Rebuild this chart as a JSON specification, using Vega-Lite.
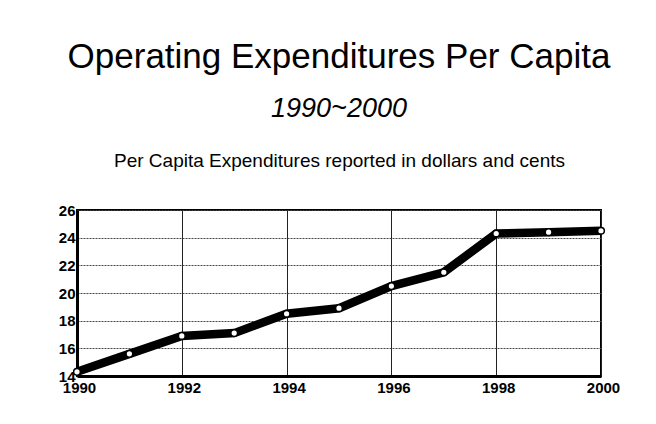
{
  "$schema": "https://vega.github.io/schema/vega-lite/v6.json",
  "width": 524,
  "height": 166,
  "autosize": {"type": "none"},
  "padding": {"left": 77, "top": 210, "right": 55, "bottom": 48},
  "background": "white",
  "title": {
    "text": "Operating Expenditures Per Capita",
    "subtitle": "1990~2000",
    "anchor": "middle",
    "font": "Liberation Sans",
    "fontSize": 35,
    "fontWeight": "normal",
    "color": "black",
    "subtitleFont": "Liberation Sans",
    "subtitleFontSize": 27,
    "subtitleFontStyle": "italic",
    "subtitleColor": "black",
    "subtitlePadding": 21,
    "offset": 29
  },
  "data": {
    "values": [
      {"year": 1990, "value": 14.3},
      {"year": 1991, "value": 15.6},
      {"year": 1992, "value": 16.9},
      {"year": 1993, "value": 17.1},
      {"year": 1994, "value": 18.5},
      {"year": 1995, "value": 18.9},
      {"year": 1996, "value": 20.5},
      {"year": 1997, "value": 21.5},
      {"year": 1998, "value": 24.3},
      {"year": 1999, "value": 24.4},
      {"year": 2000, "value": 24.5}
    ]
  },
  "layer": [
    {
      "mark": {"type": "line", "color": "black", "strokeWidth": 8.5},
      "encoding": {
        "x": {
          "field": "year",
          "type": "quantitative",
          "scale": {"domain": [1990, 2000], "nice": false, "zero": false},
          "axis": {
            "orient": "bottom",
            "values": [1990, 1992, 1994, 1996, 1998, 2000],
            "format": "d",
            "title": null,
            "ticks": false,
            "labelPadding": 4,
            "labelOffset": 2,
            "labelFlush": false,
            "labelOverlap": false,
            "domainWidth": 3,
            "domainColor": "black",
            "grid": true,
            "gridColor": "#222222",
            "gridWidth": 1
          }
        },
        "y": {
          "field": "value",
          "type": "quantitative",
          "scale": {"domain": [14, 26], "nice": false, "zero": false}
        }
      }
    },
    {
      "mark": {"type": "point", "shape": "circle", "filled": true, "fill": "white", "stroke": "black", "strokeWidth": 1.5, "size": 45, "opacity": 1},
      "encoding": {
        "x": {
          "field": "year",
          "type": "quantitative",
          "scale": {"domain": [1990, 2000], "nice": false, "zero": false},
          "axis": {
            "orient": "top",
            "labels": false,
            "ticks": false,
            "domain": false,
            "grid": false,
            "title": "Per Capita Expenditures reported in dollars and cents",
            "titleFont": "Liberation Sans",
            "titleFontSize": 19,
            "titleFontWeight": "normal",
            "titleColor": "black",
            "titlePadding": 40
          }
        },
        "y": {
          "field": "value",
          "type": "quantitative",
          "scale": {"domain": [14, 26], "nice": false, "zero": false}
        }
      }
    }
  ],
  "resolve": {"axis": {"x": "independent"}},
  "config": {
    "view": {"stroke": "black", "strokeWidth": 2},
    "axis": {
      "labelFont": "Liberation Sans",
      "labelFontSize": 15,
      "labelFontWeight": "bold",
      "labelColor": "black"
    },
    "axisY": {
      "values": [14, 16, 18, 20, 22, 24, 26],
      "title": null,
      "ticks": false,
      "labelPadding": 2,
      "labelFlush": false,
      "labelOverlap": false,
      "domainWidth": 3,
      "domainColor": "black",
      "grid": true,
      "gridColor": "#444444",
      "gridDash": [2, 1],
      "gridWidth": 1
    }
  }
}
